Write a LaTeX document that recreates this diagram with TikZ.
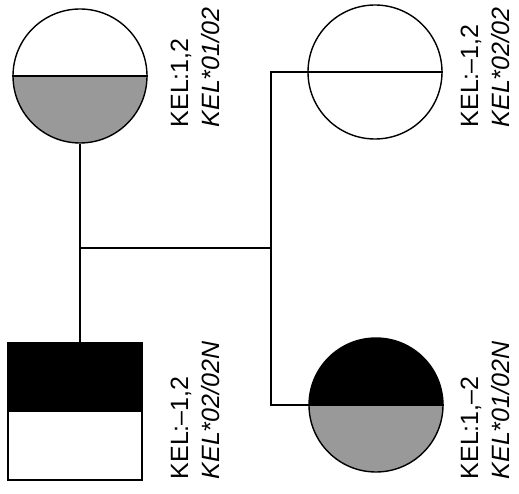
\documentclass[tikz,border=0pt]{standalone}
\usepackage{fontspec}
\setmainfont{Liberation Sans}
\tikzset{
  ind/.style={draw, inner sep=0pt},
  lbl/.style={rotate=90, anchor=north west, inner sep=0pt, align=left,
    font=\fontsize{25}{31}\selectfont}
}
\begin{document}
\begin{tikzpicture}[x=1pt,y=1pt,line width=1.4pt]
\useasboundingbox (0,0) rectangle (519,493);

% individuals
\node[ind, circle, minimum size=134pt, path picture={
  \fill[black!40] (path picture bounding box.west) rectangle (path picture bounding box.south east);}]
  (a) at (80,417) {};
\node[ind, circle, minimum size=134pt] (b) at (375,421) {};
\node[ind, circle, minimum size=134pt, path picture={
  \fill[black] (path picture bounding box.west) rectangle (path picture bounding box.north east);
  \fill[black!40] (path picture bounding box.west) rectangle (path picture bounding box.south east);}]
  (c) at (376,88) {};
\node[ind, rectangle, minimum width=134pt, minimum height=137pt, path picture={
  \fill[black] (path picture bounding box.west) rectangle (path picture bounding box.north east);}]
  (d) at (75,81.5) {};

% halves
\draw (a.west) -- (a.east);
\draw (b.west) -- (b.east);
\draw (c.west) -- (c.east);

% lines
\coordinate (sib) at (271,245);
\draw (a.south) -- (a.south |- d.north);
\draw (a.south |- sib) -- (sib);
\draw (b.west) -| (sib) |- (c.west);

% labels
\node[lbl] (la) at (170,365) {KEL:1,2\\\textit{KEL*01/02}};
\node[lbl] (lb) at (460,365) {KEL:--1,2\\\textit{KEL*02/02}};
\node[lbl] (lc) at (460,13) {KEL:1,--2\\\textit{KEL*01/02N}};
\node[lbl] (ld) at (170,13) {KEL:--1,2\\\textit{KEL*02/02N}};

\end{tikzpicture}
\end{document}
